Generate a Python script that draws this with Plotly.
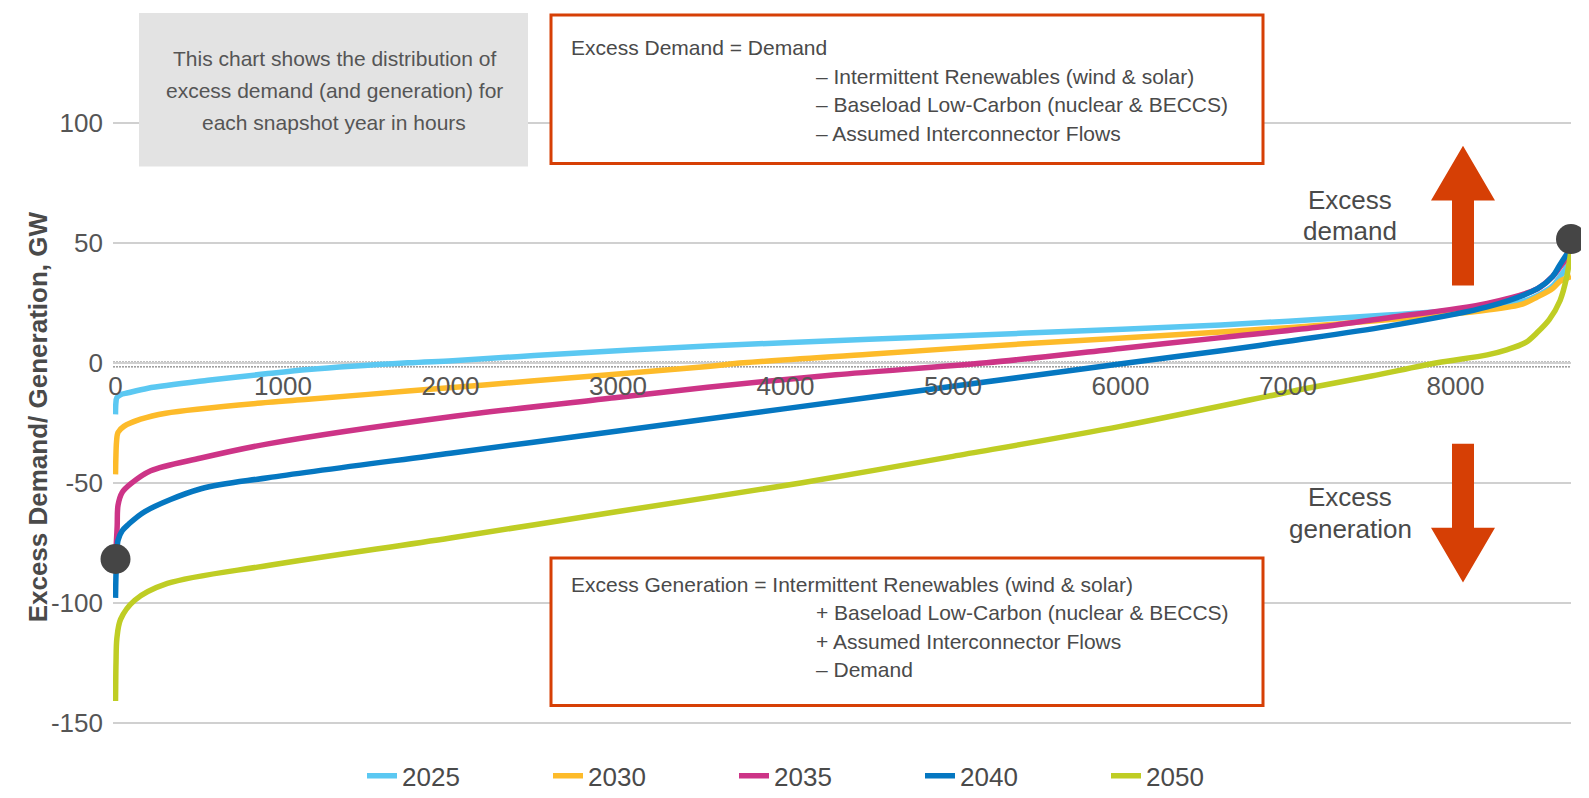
import plotly.graph_objects as go

# ---------------- data ----------------
years = ["2025", "2030", "2035", "2040", "2050"]
colors = ["#5BC8F2", "#FDBB2A", "#CD3487", "#0577C1", "#BFCD24"]

hours_2025 = [0, 2, 8, 30, 75, 194, 552, 910, 1150, 1745, 2013, 2500, 3535, 4500, 5400, 6600, 7593, 8000, 8190, 8400, 8488, 8580, 8625, 8665, 8690]
vals_2025 = [-21.5, -17, -14.5, -13.3, -12.5, -10.6, -7.3, -4.5, -2.8, 0, 0.9, 3.0, 7.0, 9.8, 12.3, 15.8, 19.9, 21.8, 23, 25.5, 28, 32, 36, 40, 44]

hours_2030 = [0, 2, 6, 15, 50, 150, 300, 910, 1150, 1745, 2500, 3535, 3750, 4500, 5400, 6600, 7593, 8190, 8400, 8488, 8580, 8625, 8690]
vals_2030 = [-46.5, -40, -33, -29, -26.5, -23.5, -21, -16.5, -15.2, -11.8, -7.5, -1.5, 0, 3.6, 7.8, 12.8, 17.9, 22, 24.5, 27.4, 31, 34, 36]

hours_2035 = [0, 5, 10, 15, 40, 90, 210, 510, 910, 2000, 2980, 3535, 4300, 5200, 6000, 6600, 7200, 7593, 8190, 8490, 8580, 8625, 8690]
vals_2035 = [-80, -75, -68, -59.4, -54, -50.5, -45, -39.7, -33.8, -22.5, -14.6, -10.2, -5, 0, 6, 10.5, 15, 18.7, 24.8, 30.9, 36, 40, 46]

hours_2040 = [0, 3, 8, 15, 40, 75, 175, 510, 910, 2000, 3000, 4000, 5000, 6050, 6600, 7000, 7593, 8190, 8490, 8580, 8625, 8690]
vals_2040 = [-98, -88, -80, -74, -70, -67.5, -62, -52.5, -47.9, -37.7, -28.4, -19.1, -9.8, 0, 5, 9, 15.2, 23.3, 30.9, 36, 41, 48]

hours_2050 = [0, 1, 3, 8, 30, 115, 310, 910, 2000, 3000, 4100, 5000, 6000, 7116, 7500, 7891, 8190, 8310, 8420, 8488, 8560, 8625, 8665, 8690]
vals_2050 = [-141, -135, -125, -115, -107, -99, -92, -84.5, -73, -62, -50, -39, -26.5, -10.6, -5.5, 0, 3.3, 5.5, 8.5, 12.6, 18, 26, 36, 47]

series_hours = [hours_2025, hours_2030, hours_2035, hours_2040, hours_2050]
series_vals = [vals_2025, vals_2030, vals_2035, vals_2040, vals_2050]

dot_hours = [0, 8690]
dot_values = [-81.8, 51.6]

x_range = [-15, 8690]
y_range = [-151, 145]
x_tick_vals = [0, 1000, 2000, 3000, 4000, 5000, 6000, 7000, 8000]
x_tick_text = ["0", "1000", "2000", "3000", "4000", "5000", "6000", "7000", "8000"]
y_tick_vals = [-150, -100, -50, 0, 50, 100]
y_tick_text = ["-150", "-100", "-50", "0", "50", "100"]

y_title = "Excess Demand/ Generation, GW"
info_lines = ["This chart shows the distribution of",
              "excess demand (and generation) for",
              "each snapshot year in hours"]
demand_lines = ["Excess Demand = Demand",
                "– Intermittent Renewables (wind & solar)",
                "– Baseload Low-Carbon (nuclear & BECCS)",
                "– Assumed Interconnector Flows"]
gen_lines = ["Excess Generation = Intermittent Renewables (wind & solar)",
             "+ Baseload Low-Carbon (nuclear & BECCS)",
             "+ Assumed Interconnector Flows",
             "– Demand"]

# ---------------- layout geometry (pixels) ----------------
W, H = 1589, 798
L, R, T, B = 105, 1563, 7, 734
FONT = "Liberation Sans, Arial, sans-serif"
TXT = "#4a4a4a"
RED = "#D63F05"


def px(x):
    return (x - L) / (R - L)


def py(y):
    return (B - y) / (B - T)


fig = go.Figure()

for yr, col, hx, hv in zip(years, colors, series_hours, series_vals):
    fig.add_trace(go.Scatter(x=hx, y=hv, mode="lines", name=yr,
                             line=dict(color=col, width=5.5, shape="spline", smoothing=0.9),
                             cliponaxis=False))

fig.add_trace(go.Scatter(x=dot_hours, y=dot_values, mode="markers", showlegend=False,
                         marker=dict(size=30, color="#454545"), cliponaxis=False))

shapes = []
# zero line: white cover + double dotted line
shapes.append(dict(type="line", xref="paper", x0=0, x1=1, yref="y", y0=0, y1=0,
                   line=dict(color="white", width=2), layer="between"))
for yv in (0.3, -1.7):
    shapes.append(dict(type="line", xref="paper", x0=0, x1=1, yref="y", y0=yv, y1=yv,
                       line=dict(color="#666666", width=1, dash="2px,1px"), layer="between"))

# grey info box
shapes.append(dict(type="rect", xref="paper", yref="paper",
                   x0=px(131), x1=px(520), y0=py(162), y1=py(5),
                   fillcolor="#E3E3E3", line=dict(width=0)))
# red boxes
for top, bot in ((7, 159), (563, 714)):
    shapes.append(dict(type="rect", xref="paper", yref="paper",
                       x0=px(543), x1=px(1255), y0=py(bot), y1=py(top),
                       fillcolor="white", line=dict(color=RED, width=3)))


def path(points):
    s = "M " + " L ".join(f"{px(a):.5f},{py(b):.5f}" for a, b in points) + " Z"
    return s


up = [(1444, 284), (1444, 197), (1423, 197), (1455, 141), (1487, 197), (1466, 197), (1466, 284)]
down = [(1444, 446), (1444, 532), (1423, 532), (1455, 588), (1487, 532), (1466, 532), (1466, 446)]
for p in (up, down):
    shapes.append(dict(type="path", xref="paper", yref="paper", path=path(p),
                       fillcolor=RED, line=dict(width=0)))

annotations = []
for i, t in enumerate(info_lines):
    annotations.append(dict(text=t, xref="paper", yref="paper", x=px(326), y=py(52 + 32.5 * i),
                            xanchor="center", yanchor="middle", showarrow=False,
                            font=dict(size=21, color="#555555", family=FONT)))
for i, t in enumerate(demand_lines):
    xx = 561 if i == 0 else 806
    annotations.append(dict(text=t, xref="paper", yref="paper", x=px(xx), y=py(40 + 29.5 * i),
                            xanchor="left", yanchor="middle", showarrow=False,
                            font=dict(size=21, color=TXT, family=FONT)))
for i, t in enumerate(gen_lines):
    xx = 561 if i == 0 else 806
    annotations.append(dict(text=t, xref="paper", yref="paper", x=px(xx), y=py(590 + 29 * i),
                            xanchor="left", yanchor="middle", showarrow=False,
                            font=dict(size=21, color=TXT, family=FONT)))
for t, yy in (("Excess", 196), ("demand", 228), ("Excess", 501), ("generation", 533)):
    annotations.append(dict(text=t, xref="paper", yref="paper", x=px(1342), y=py(yy),
                            xanchor="center", yanchor="middle", showarrow=False,
                            font=dict(size=26, color=TXT, family=FONT)))
annotations.append(dict(text=f"<b>{y_title}</b>", xref="paper", yref="paper",
                        x=px(30), y=py(419), textangle=-90, xanchor="center", yanchor="middle",
                        showarrow=False, font=dict(size=26, color=TXT, family=FONT)))

zero_pos = (0 - y_range[0]) / (y_range[1] - y_range[0])

fig.update_layout(
    width=W, height=H, autosize=False,
    margin=dict(l=L, r=W - R, t=T, b=H - B, pad=0),
    paper_bgcolor="white", plot_bgcolor="white",
    font=dict(family=FONT, color=TXT),
    shapes=shapes, annotations=annotations,
    xaxis=dict(range=x_range, anchor="free", position=zero_pos,
               tickvals=x_tick_vals, ticktext=x_tick_text, ticks="",
               showgrid=False, zeroline=False, showline=False,
               tickfont=dict(size=26, color="#555555", family=FONT),
               ticklabelstandoff=5),
    yaxis=dict(range=y_range, tickvals=y_tick_vals, ticktext=y_tick_text, ticks="",
               showgrid=True, gridcolor="#D0D0D0", gridwidth=1.5, zeroline=False,
               showline=False, tickfont=dict(size=26, color="#555555", family=FONT),
               ticklabelstandoff=9),
    legend=dict(orientation="h", x=px(354), xanchor="left", y=py(786), yanchor="middle",
                font=dict(size=26, color=TXT, family=FONT), entrywidth=141,
                entrywidthmode="pixels", bgcolor="rgba(0,0,0,0)"),
    showlegend=True,
)

fig.write_html("out.html")
